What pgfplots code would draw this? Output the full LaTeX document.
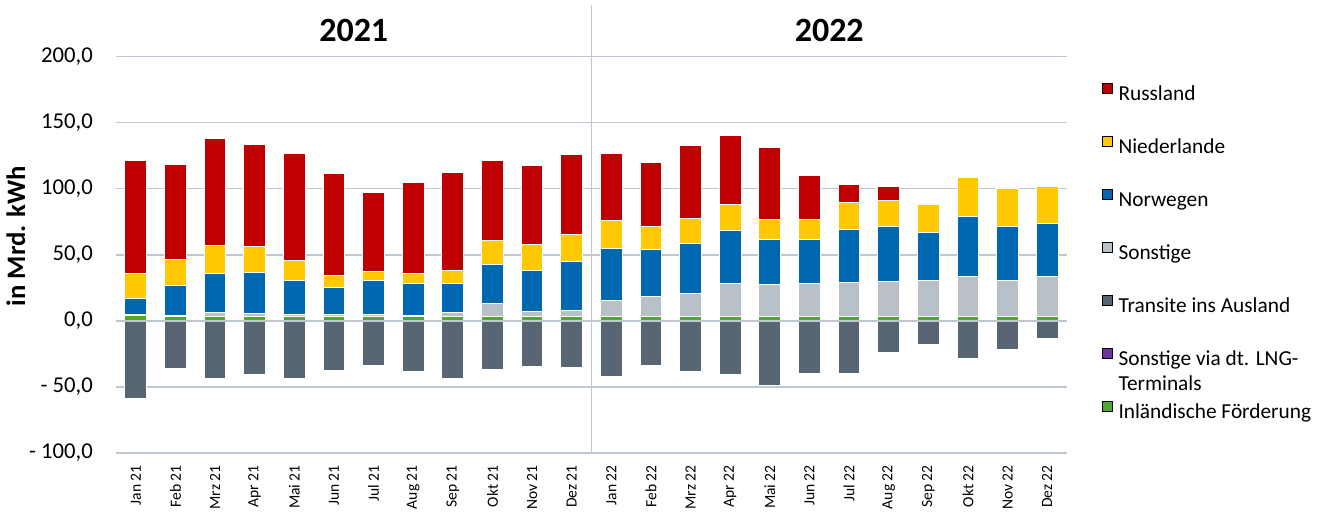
\documentclass[border=0pt]{standalone}
\usepackage{pgfplots}
\usepackage{pgfplotstable}
\pgfplotsset{compat=1.18}
\usepackage{fontspec}
\setmainfont{Carlito}
\definecolor{cRU}{HTML}{C00000}
\definecolor{cNL}{HTML}{FFC800}
\definecolor{cNO}{HTML}{0068B0}
\definecolor{cSO}{HTML}{B8C0C8}
\definecolor{cTR}{HTML}{586673}
\definecolor{cLNG}{HTML}{7030A0}
\definecolor{cIN}{HTML}{4EA72E}
\definecolor{gridc}{HTML}{BFC8D2}

\pgfplotstableread{
x  IN   SO    NO    NL    RU    TR
0  3.75 0.8   12.2  19.5  85.5  -59
1  3    1     22.75 19.5  72.25 -36
2  3.5  2.5   30.25 20.75 81.25 -43.75
3  3.5  2     31    19.5  77.25 -40.25
4  3.5  1     25.75 15.75 81    -43.5
5  3    1.5   20.75 9     77.5  -37.75
6  3.5  1     25.75 7.5   59.5  -33.5
7  3.25 1     24.25 7.75  68.5  -38.25
8  3    3     22.5  9.5   74.5  -43.25
9  3.5  9.5   30    18.25 60    -36.5
10 3.25 4     31    19.25 60.25 -34.5
11 3.25 4.75  37.25 20.25 60.25 -35
12 3.5  11.75 39.75 21    51    -42
13 3    15.5  35.75 17.5  48.5  -33.75
14 3.5  17.5  37.75 18.75 55    -38.5
15 3    25.5  40.25 19.25 52.5  -40.5
16 3.5  24.25 34.25 14.75 54.5  -49
17 3    25.5  33.5  14.75 33.25 -39.5
18 3    26    40    20.75 13.5  -39.5
19 3    27    41.5  19.5  10.75 -23.75
20 3    27.25 36.5  21.75 0     -17.75
21 3    30.5  45.5  29.75 0     -28.75
22 3    27.75 40.75 28.5  0     -22
23 3    30.5  40    28    0     -13.5
}\data

\pgfplotsset{
  common/.style={
    width=713.25pt, height=297.2pt, scale only axis,
    at={(0,0)}, anchor=south west,
    xmin=-0.5, xmax=23.5, ymin=-100, ymax=200,
    clip=false,
  },
}

\begin{document}
\begin{tikzpicture}
\useasboundingbox (-87pt,-45pt) rectangle (909.75pt,339.75pt);
\begin{axis}[common,
  ybar stacked, bar width=16.3pt,
  axis line style={draw=none},
  tick style={draw=none},
  major tick length=0pt,
  ymajorgrids, grid style={gridc, line width=1pt},
  ytick={-100,-50,0,50,100,150,200},
  yticklabels={{- 100,0},{- 50,0},{0,0},{50,0},{100,0},{150,0},{200,0}},
  yticklabel style={font=\fontsize{17}{20}\selectfont, inner sep=0pt, anchor=east},
  yticklabel shift=17.25pt,
  xtick={0,...,23},
  xticklabels={Jan 21,Feb 21,Mrz 21,Apr 21,Mai 21,Jun 21,Jul 21,Aug 21,Sep 21,Okt 21,Nov 21,Dez 21,Jan 22,Feb 22,Mrz 22,Apr 22,Mai 22,Jun 22,Jul 22,Aug 22,Sep 22,Okt 22,Nov 22,Dez 22},
  xticklabel style={font=\fontsize{11.7}{14}\selectfont, rotate=90, anchor=east, inner sep=0pt},
  xticklabel shift=9pt,
  ylabel={\fontsize{20}{24}\selectfont\bfseries in Mrd. kWh},
  every axis y label/.style={at={(axis description cs:-0.1052,0.5476)}, rotate=90, anchor=center},
  legend cell align=left,
  legend style={at={(axis description cs:1.0365,0.9336)}, anchor=north west,
    draw=none, fill=none, inner sep=0pt, row sep=4.8pt, column sep=4.5pt,
    font=\fontsize{16}{19}\selectfont,
    nodes={inner sep=0pt, text height=11pt, text depth=3pt}},
  legend image code/.code={\fill[#1] (0pt,1.4pt) rectangle (7.5pt,8.9pt);},
]
\addplot[forget plot, fill=cIN, draw=white, line width=0.75pt] table[x=x,y=IN]{\data};
\addplot[forget plot, fill=cSO, draw=white, line width=0.75pt] table[x=x,y=SO]{\data};
\addplot[forget plot, fill=cNO, draw=white, line width=0.75pt] table[x=x,y=NO]{\data};
\addplot[forget plot, fill=cNL, draw=white, line width=0.75pt] table[x=x,y=NL]{\data};
\addplot[forget plot, fill=cRU, draw=white, line width=0.75pt] table[x=x,y=RU]{\data};

\addlegendimage{fill=cRU}\addlegendentry{Russland}
\addlegendimage{empty legend}\addlegendentry{}
\addlegendimage{fill=cNL}\addlegendentry{Niederlande}
\addlegendimage{empty legend}\addlegendentry{}
\addlegendimage{fill=cNO}\addlegendentry{Norwegen}
\addlegendimage{empty legend}\addlegendentry{}
\addlegendimage{fill=cSO}\addlegendentry{Sonstige}
\addlegendimage{empty legend}\addlegendentry{}
\addlegendimage{fill=cTR}\addlegendentry{Transite ins Ausland}
\addlegendimage{empty legend}\addlegendentry{}
\addlegendimage{fill=cLNG}\addlegendentry{Sonstige via dt. LNG-}
\addlegendimage{empty legend}\addlegendentry{Terminals}
\addlegendimage{fill=cIN}\addlegendentry{Inländische Förderung}

\node[font=\bfseries\fontsize{25.5}{30}\selectfont] at (axis cs:5.5,220.2) {2021};
\node[font=\bfseries\fontsize{25.5}{30}\selectfont] at (axis cs:17.5,220.2) {2022};
\draw[gridc, line width=1pt] (axis cs:11.5,-100) -- (axis cs:11.5,239.1);
\end{axis}
\begin{axis}[common,
  ybar, bar width=16.3pt, bar shift=0pt,
  axis lines=none, ticks=none,
]
\addplot[fill=cTR, draw=white, line width=0.75pt] table[x=x,y=TR]{\data};
\draw[gridc, line width=1pt] (axis cs:-0.5,0) -- (axis cs:23.5,0);
\end{axis}
\end{tikzpicture}
\end{document}
